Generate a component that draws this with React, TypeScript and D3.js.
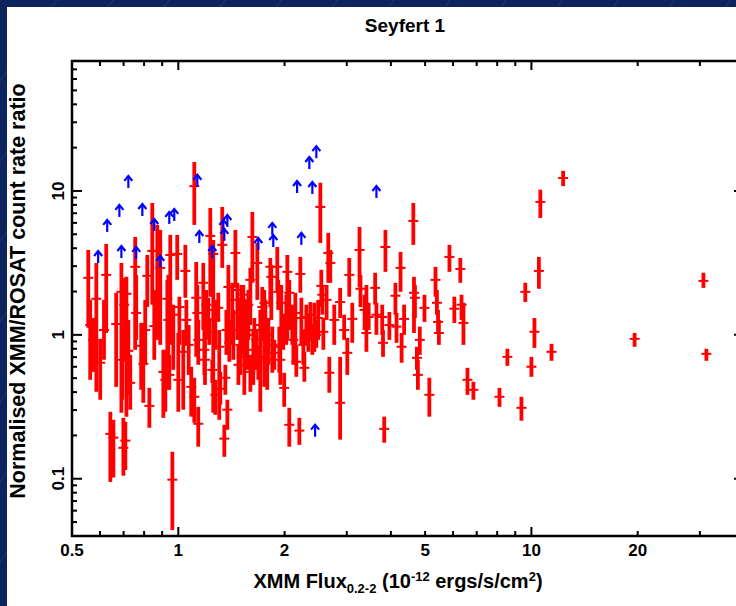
import React from "react";
import * as d3 from "d3";

// XMM 0.2-2 keV flux (1e-12 erg/s/cm2) for detected Seyfert 1s
const flux = [
  0.556, 0.563, 0.574, 0.586, 0.601, 0.625, 0.642, 0.655, 0.667, 0.69,
  0.694, 0.699, 0.708, 0.703, 0.713, 0.722, 0.731, 0.755, 0.76, 0.785,
  0.796, 0.817, 0.828, 0.844, 0.855, 0.872, 0.889, 0.907, 0.919, 0.931,
  0.937, 0.943, 0.949, 0.962, 0.968, 0.993, 1.0, 1.007, 1.033, 1.047,
  1.088, 1.11, 1.11, 1.124, 1.132, 1.139, 1.139, 1.177, 1.2, 1.216,
  1.224, 1.232, 1.248, 1.256, 1.298, 1.306, 1.315, 1.332, 1.35, 1.359,
  1.377, 1.386, 1.395, 1.422, 1.451, 1.47, 1.489, 1.509, 1.528, 1.538,
  1.558, 1.579, 1.6, 1.621, 1.642, 1.663, 1.674, 1.685, 1.707, 1.729,
  1.752, 1.775, 1.786, 1.822, 1.834, 1.846, 1.87, 1.907, 1.919, 1.932,
  1.957, 1.982, 1.995, 2.036, 2.062, 2.062, 2.103, 2.145, 2.159, 2.202,
  2.216, 2.231, 2.275, 2.305, 2.335, 2.366, 2.397, 2.428, 2.46, 2.525,
  2.541, 2.558, 2.575, 2.659, 2.695, 2.677, 2.765, 2.873, 2.873, 2.949,
  3.01, 3.049, 3.11, 3.26, 3.28, 3.37, 3.41, 3.46, 3.61, 3.64,
  3.78, 3.8, 3.83, 3.86, 3.96, 4.12, 4.15, 4.26, 4.29, 4.36,
  4.63, 4.65, 4.68, 4.74, 4.77, 4.83, 4.98, 5.14, 5.35, 5.4,
  5.44, 5.47, 5.86, 6.05, 6.29, 6.34, 6.42, 6.59, 6.85, 8.12,
  8.55, 9.37, 9.61, 10.0, 10.2, 10.5, 10.6, 11.4, 12.3, 19.6,
  30.7, 31.3, 1.48, 1.6, 1.273, 1.19, 1.054, 1.07, 0.806, 0.616,
  1.432, 1.498, 1.569, 1.631, 1.764, 1.799, 1.945, 2.023, 2.118, 2.26,
  2.49, 2.63, 1.273, 1.368, 1.185,
];

// Normalised XMM/ROSAT count rate ratio
const ratio = [
  2.49, 1.17, 0.923, 1.78, 0.64, 2.61, 0.205, 0.193, 1.19, 1.99,
  0.671, 0.164, 0.184, 1.62, 1.93, 0.774, 0.464, 2.97, 1.42, 0.839,
  0.629, 2.57, 0.321, 3.83, 1.15, 3.83, 2.92, 0.553, 0.487, 1.78,
  1.27, 0.527, 3.59, 0.0985, 1.38, 3.65, 0.487, 1.56, 0.762, 2.78,
  0.435, 10.8, 0.371, 1.81, 1.42, 0.923, 0.241, 2.3, 1.62, 1.49,
  1.05, 4.87, 0.571, 3.65, 1.54, 0.826, 0.422, 4.22, 0.19, 0.503,
  0.302, 2.15, 0.88, 1.75, 3.71, 2.05, 1.42, 1.75, 1.9, 0.703,
  1.27, 1.62, 2.41, 4.79, 1.08, 0.923, 3.16, 0.703, 1.17, 1.56,
  1.67, 0.923, 0.671, 2.97, 2.53, 0.852, 0.75, 2.97, 1.99, 0.826,
  1.67, 1.08, 0.428, 2.74, 1.96, 0.237, 1.27, 1.42, 0.65, 0.216,
  2.65, 1.31, 0.59, 1.33, 1.08, 1.38, 0.923, 1.17, 1.0, 7.74,
  2.19, 1.9, 1.05, 3.71, 3.16, 0.545, 1.27, 1.69, 0.337, 1.08,
  0.75, 2.61, 1.29, 3.89, 2.09, 1.49, 1.03, 1.33, 2.12, 1.38,
  1.33, 0.88, 0.222, 4.08, 1.17, 1.87, 1.14, 2.92, 0.826, 1.29,
  6.19, 1.96, 1.81, 0.692, 0.527, 0.923, 1.54, 0.383, 2.41, 1.67,
  1.23, 1.03, 3.48, 1.52, 2.87, 1.62, 1.21, 0.487, 0.415, 0.371,
  0.703, 0.311, 1.99, 0.6, 1.05, 2.78, 8.39, 0.762, 12.3, 0.938,
  2.37, 0.738, 0.619, 0.553, 0.383, 0.671, 1.27, 0.852, 1.08, 1.08,
  1.08, 0.852, 1.0, 0.787, 1.27, 1.0, 0.671, 1.38, 0.923, 0.852,
  1.31, 1.75, 1.27, 1.08, 0.787,
];

const ratioHigh = [
  3.89, 1.75, 1.31, 3.16, 0.938, 4.28, 0.292, 0.257, 1.96, 3.16,
  1.08, 0.265, 0.249, 2.49, 2.53, 1.27, 0.726, 4.79, 2.61, 1.21,
  1.21, 3.59, 0.428, 8.25, 2.05, 5.81, 5.36, 0.787, 0.787, 2.41,
  2.61, 0.726, 4.95, 0.154, 1.62, 4.95, 1.03, 1.84, 1.08, 4.22,
  0.6, 15.9, 0.503, 3.21, 2.22, 1.27, 0.316, 3.16, 2.05, 1.81,
  1.31, 7.62, 0.671, 4.57, 1.96, 1.08, 0.553, 7.74, 0.237, 0.619,
  0.354, 3.06, 1.27, 2.3, 5.36, 2.3, 1.81, 2.22, 2.22, 0.852,
  1.75, 2.05, 2.92, 7.15, 1.31, 1.08, 4.35, 0.852, 1.49, 2.15,
  2.05, 1.17, 0.787, 3.42, 3.06, 1.14, 0.923, 4.08, 2.41, 1.14,
  2.22, 1.38, 0.545, 3.59, 2.41, 0.311, 1.62, 1.96, 0.852, 0.265,
  3.48, 1.81, 0.762, 1.62, 1.38, 1.69, 1.17, 1.67, 1.27, 11.4,
  2.83, 2.22, 1.31, 5.11, 3.89, 0.703, 1.62, 2.12, 0.703, 1.38,
  0.953, 3.42, 1.67, 5.62, 2.61, 1.9, 2.22, 1.67, 2.7, 1.67,
  1.62, 1.08, 0.27, 5.36, 1.44, 2.3, 1.42, 3.77, 1.03, 1.62,
  8.25, 2.53, 2.22, 0.826, 0.671, 1.14, 1.9, 0.503, 2.97, 2.05,
  1.49, 1.27, 4.22, 1.84, 3.42, 1.9, 1.67, 0.59, 0.472, 0.428,
  0.8, 0.371, 2.3, 0.703, 1.31, 3.48, 10.2, 0.866, 13.8, 1.03,
  2.7, 0.8, 0.852, 0.726, 0.487, 0.923, 1.75, 1.17, 1.75, 1.75,
  1.49, 1.17, 1.31, 1.08, 1.75, 1.31, 0.923, 1.9, 1.23, 1.08,
  1.75, 2.22, 1.75, 1.49, 1.08,
];

const ratioLow = [
  1.12, 0.487, 0.553, 0.402, 0.354, 1.03, 0.095, 0.102, 0.435, 0.287,
  0.354, 0.105, 0.115, 0.65, 0.27, 0.383, 0.302, 0.787, 0.923, 0.415,
  0.337, 1.56, 0.226, 1.62, 0.671, 0.923, 0.852, 0.265, 0.292, 0.415,
  0.487, 0.415, 0.852, 0.044, 0.571, 2.41, 0.292, 0.852, 0.302, 1.81,
  0.27, 5.81, 0.245, 0.703, 0.787, 0.619, 0.167, 1.08, 0.923, 1.08,
  0.852, 1.84, 0.464, 0.287, 1.23, 0.257, 0.327, 2.92, 0.142, 0.383,
  0.219, 1.08, 0.65, 0.852, 2.12, 0.923, 0.923, 1.08, 0.726, 0.383,
  0.852, 0.923, 1.17, 2.3, 0.671, 0.571, 1.75, 0.487, 0.292, 0.923,
  0.435, 0.571, 0.415, 1.56, 1.27, 0.545, 0.571, 1.96, 1.49, 0.545,
  0.852, 0.787, 0.316, 0.923, 1.08, 0.167, 0.852, 0.787, 0.511, 0.172,
  1.96, 0.852, 0.472, 0.852, 0.762, 0.923, 0.726, 0.762, 0.812, 4.35,
  1.56, 1.38, 0.787, 2.3, 2.3, 0.396, 0.852, 1.31, 0.187, 0.923,
  0.527, 1.84, 0.88, 2.15, 1.56, 1.08, 0.762, 1.08, 1.62, 1.0,
  1.0, 0.703, 0.178, 2.74, 0.923, 1.38, 0.88, 1.99, 0.64, 1.0,
  4.22, 1.03, 1.31, 0.571, 0.415, 0.726, 1.23, 0.27, 1.84, 1.38,
  1.03, 0.852, 2.74, 1.21, 2.3, 1.27, 0.852, 0.383, 0.354, 0.316,
  0.609, 0.253, 1.69, 0.511, 0.812, 2.09, 6.49, 0.66, 10.8, 0.826,
  2.12, 0.66, 0.449, 0.402, 0.278, 0.449, 0.852, 0.527, 0.619, 0.671,
  0.671, 0.527, 0.571, 0.449, 0.787, 0.619, 0.449, 0.852, 0.619, 0.619,
  0.923, 1.27, 0.787, 0.726, 0.527,
];

// Lower limits (blue arrows)
const limitFlux = [
  0.593, 0.629, 0.681, 0.722, 0.69, 0.76, 0.791, 0.855, 0.889, 0.943,
  0.974, 1.132, 1.147, 1.248, 1.341, 1.377, 1.35, 1.685, 1.846, 1.858,
  2.17, 2.231, 2.35, 2.397, 2.46, 2.44, 3.64,
];
const limitRatio = [
  3.16, 5.19, 6.6, 10.5, 3.42, 3.37, 6.7, 5.27, 2.92, 5.9,
  6.19, 10.7, 4.35, 3.42, 5.19, 5.62, 4.5, 3.89, 4.95, 4.08,
  9.68, 4.22, 14.2, 9.53, 16.9, 0.196, 8.94,
];

const xTickLabels = [0.5, 1, 2, 5, 10, 20];
const yTickLabels = [0.1, 1, 10];
const xDomain = [0.5, 40];
const yDomain = [0.04, 80];

const W = 736;
const H = 606;
const L = 72, R = 744, T = 61, B = 536;
const FONT = "'Liberation Sans', Arial, Helvetica, sans-serif";

export default function App() {
  const x = d3.scaleLog().domain(xDomain).range([L, R]);
  const y = d3.scaleLog().domain(yDomain).range([B, T]);
  const isMajor = (v: number) => Math.abs(Math.log10(v) - Math.round(Math.log10(v))) < 1e-6;
  const xt = x.ticks();
  const yt = y.ticks();
  const majLen = 9, minLen = 5;

  return (
    <svg width={W} height={H} style={{ position: "absolute", left: 0, top: 0, display: "block" }}>
      <defs>
        <pattern id="bgp" width="46" height="46" patternUnits="userSpaceOnUse" patternTransform="rotate(35)">
          <rect width="46" height="46" fill="#0b245e" />
          <line x1="0" y1="0" x2="0" y2="46" stroke="#3f5f9c" strokeWidth="1" opacity="0.6" />
        </pattern>
      </defs>
      <rect width={W} height={H} fill="url(#bgp)" />
      <rect x={7} y={7} width={W} height={H} fill="#ffffff" />

      <text x={405} y={32} textAnchor="middle" fontFamily={FONT} fontSize={19} fontWeight="bold" fill="#000">Seyfert 1</text>

      {/* error bars */}
      <g>
        {flux.map((f, i) => (
          <g key={i}>
            <line x1={x(f)} x2={x(f)} y1={y(ratioHigh[i])} y2={y(ratioLow[i])} stroke="#ff0000" strokeWidth={3.8} />
            <line x1={x(f) - 5} x2={x(f) + 5} y1={y(ratio[i])} y2={y(ratio[i])} stroke="#ff0000" strokeWidth={2} />
          </g>
        ))}
      </g>
      {/* lower limits */}
      <g stroke="#0000ff" strokeWidth={2.2} fill="none">
        {limitFlux.map((f, i) => {
          const cx = x(f);
          const y0 = y(limitRatio[i]);
          const y1 = y0 - 12;
          return (
            <g key={i}>
              <line x1={cx} x2={cx} y1={y0} y2={y1 + 1} />
              <polyline points={`${cx - 4},${y1 + 5} ${cx},${y1} ${cx + 4},${y1 + 5}`} />
            </g>
          );
        })}
      </g>

      {/* frame */}
      <rect x={L} y={T} width={R - L} height={B - T} fill="none" stroke="#000" strokeWidth={2.5} />
      <g stroke="#000" strokeWidth={2}>
        {xt.map((v, i) => {
          const len = isMajor(v) ? majLen : minLen;
          const px = x(v);
          return (
            <g key={i}>
              <line x1={px} x2={px} y1={B} y2={B - len} />
              <line x1={px} x2={px} y1={T} y2={T + len} />
            </g>
          );
        })}
        {yt.map((v, i) => {
          const len = isMajor(v) ? majLen + 1 : minLen;
          const py = y(v);
          return (
            <g key={i}>
              <line x1={L} x2={L + len} y1={py} y2={py} />
              <line x1={R} x2={R - len} y1={py} y2={py} />
            </g>
          );
        })}
      </g>

      {/* tick labels */}
      <g fontFamily={FONT} fontSize={17} fontWeight="bold" fill="#000">
        {xTickLabels.map((v) => (
          <text key={v} x={x(v)} y={556} textAnchor="middle">{String(v)}</text>
        ))}
        {yTickLabels.map((v) => (
          <text key={v} transform={`translate(64,${y(v)}) rotate(-90)`} textAnchor="middle">{String(v)}</text>
        ))}
      </g>

      {/* axis titles */}
      <text x={398} y={588} textAnchor="middle" fontFamily={FONT} fontSize={20} fontWeight="bold" fill="#000">
        XMM Flux
        <tspan fontSize={13} dy={5}>0.2-2</tspan>
        <tspan dy={-5}> (10</tspan>
        <tspan fontSize={13} dy={-7}>-12</tspan>
        <tspan dy={7}> ergs/s/cm</tspan>
        <tspan fontSize={13} dy={-7}>2</tspan>
        <tspan dy={7}>)</tspan>
      </text>
      <text transform="translate(25,291) rotate(-90)" textAnchor="middle" fontFamily={FONT} fontSize={21.5} fontWeight="bold" fill="#000">
        Normalised XMM/ROSAT count rate ratio
      </text>
    </svg>
  );
}
